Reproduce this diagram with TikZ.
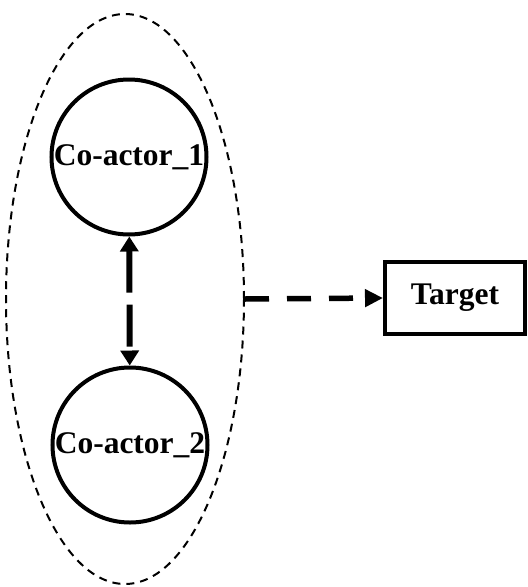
\documentclass[tikz,border=0pt]{standalone}
\usepackage{fontspec}
\setmainfont{Liberation Serif}
\usepackage{tikz}
\usetikzlibrary{shapes.geometric,arrows.meta}

\begin{document}
\begin{tikzpicture}[x=1pt,y=-1pt,
    actor/.style={circle,draw,line width=4pt,minimum size=155pt,inner sep=0pt,font=\fontsize{31.5}{36}\selectfont\bfseries},
    tgt/.style={rectangle,draw,line width=4pt,minimum width=140pt,minimum height=72pt,inner sep=0pt,font=\fontsize{31.5}{36}\selectfont\bfseries}]
                 \useasboundingbox (0,0) rectangle (528,587);
                 \node[ellipse,draw,line width=2pt,dash pattern=on 8pt off 6pt,minimum width=238pt,minimum height=570pt,inner sep=0pt](grp)at(125,299){};
                 \node[actor](c1)at(129,157){Co-actor\_1};
                 \node[actor](c2)at(130,445){Co-actor\_2};
                 \node[tgt](t)at(455,298){Target};
                 \draw[{Triangle[length=15pt,width=18pt]}-{Triangle[length=15pt,width=18pt]},line width=6pt,dash pattern=on 42pt off 12pt](c1)--(c2);
                 \draw[-{Triangle[length=18pt,width=17pt]},line width=5.5pt,dash pattern=on 24pt off 18pt](grp.east)--(t.west);
               \end{tikzpicture}
\end{document}
